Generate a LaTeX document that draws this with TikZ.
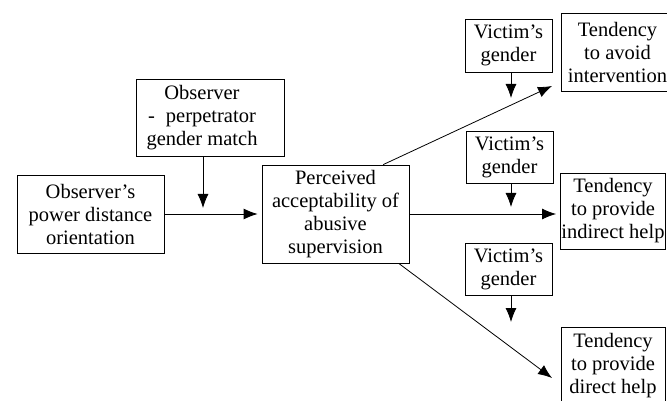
\documentclass[tikz,border=0pt]{standalone}
\usepackage{fontspec}
\setmainfont{Liberation Serif}
\usetikzlibrary{arrows.meta}
\begin{document}
\begin{tikzpicture}[x=1pt, y=-1pt,
  box/.style={draw, line width=0.8pt, align=center, inner sep=1pt, font=\fontsize{20.5}{23}\selectfont},
  arr/.style={-{Latex[length=14pt,width=11pt]}, line width=0.8pt}]
\clip (0,0) rectangle (667,401);
\node[box, minimum width=147, minimum height=78] (obs) at (90.5,214){Observer's\\power distance\\orientation};
\node[box, minimum width=148, minimum height=77] (match) at (210,117.5){\hbox{\begin{tabular}{@{}c@{}}Observer\\-\hspace{11pt}perpetrator\\gender match\end{tabular}\hspace{16pt}}};
\node[box, minimum width=147, minimum height=98] (perc) at (335.5,214){Perceived\\acceptability of\\abusive\\supervision};
\node[box, minimum width=87, minimum height=53] (vic1) at (508.5,45.5){Victim's\\gender};
\node[box, minimum width=87, minimum height=52] (vic2) at (509.5,157){Victim's\\gender};
\node[box, minimum width=87, minimum height=52] (vic3) at (508.5,269){Victim's\\gender};
\node[box, minimum width=113, minimum height=78] (avoid) at (617.5,52){Tendency\\to avoid\\intervention};
\node[box, minimum width=104, minimum height=76] (indir) at (613,211){Tendency\\to provide\\indirect help};
\node[box, minimum width=104, minimum height=78] (dir) at (613,366){Tendency\\to provide\\direct help};
\coordinate (m0) at (203,214);
\coordinate (m1) at (511,105);
\coordinate (m2) at (511,214);
\coordinate (m3) at (511,348);
\coordinate (t1) at (552,86);
\coordinate (t3) at (552,378);
\draw[arr, shorten >=4pt](obs.east) -- (perc.west);
\draw[arr, shorten >=6pt](match.south -| m0) -- (m0);
\draw[arr](perc.46.5) -- (t1);
\draw[arr, shorten >=4pt](perc.east) -- (perc.east -| indir.west);
\draw[arr](perc.-38.5) -- (t3);
\draw[arr, shorten >=7pt](vic1.south -| m1) -- (m1);
\draw[arr, shorten >=7pt](vic2.south -| m2) -- (m2);
\draw[arr, shorten >=26pt](vic3.south -| m3) -- (m3);
\end{tikzpicture}
\end{document}
